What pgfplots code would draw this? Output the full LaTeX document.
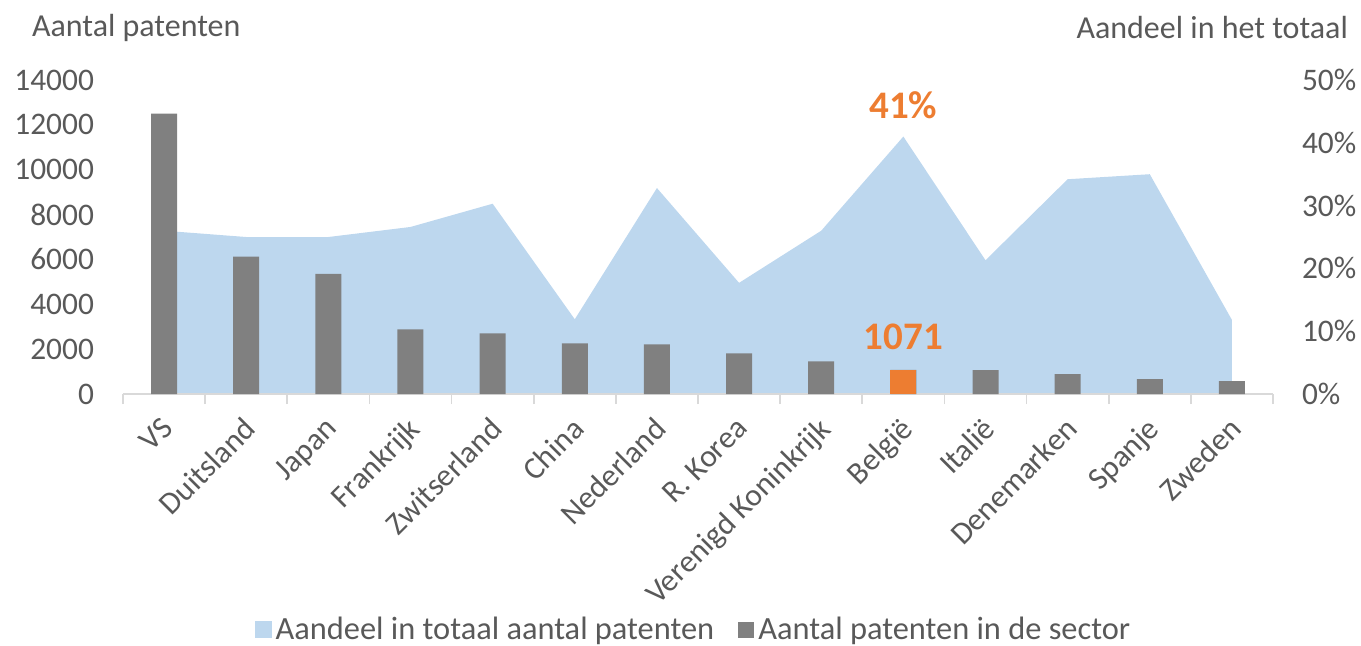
\documentclass[border=0pt]{standalone}
\usepackage{pgfplots}
\pgfplotsset{compat=1.18}
\usepackage{pgfplotstable}
\usepackage{fontspec}
\setmainfont{Carlito}

\definecolor{areablue}{HTML}{BDD7EE}
\definecolor{bargray}{HTML}{808080}
\definecolor{accent}{HTML}{ED7D31}
\definecolor{txt}{HTML}{595959}

% share of total patents (%), per country
\pgfplotstableread{
idx share
0  26.0
1  25.0
2  25.0
3  26.6
4  30.3
5  11.9
6  32.8
7  17.7
8  26.0
9  41.0
10 21.3
11 34.2
12 35.0
13 11.8
}\sharetable

% number of patents in the sector
\pgfplotstableread{
idx count
0  12500
1  6130
2  5360
3  2880
4  2700
5  2260
6  2215
7  1815
8  1460
9  1071
10 1060
11 885
12 665
13 575
}\counttable

\begin{document}
\begin{tikzpicture}[font=\fontsize{16}{19}\selectfont, text=txt]
\useasboundingbox (-61.5pt,-125.5pt) rectangle (619pt,197pt);
\pgfplotsset{
  base/.style={
    scale only axis, width=575pt, height=157pt,
    at={(0,0)}, anchor=south west,
    xmin=-0.5, xmax=13.5, ymin=0,
    /pgf/number format/assume math mode=true,
    /pgf/number format/1000 sep={},
    scaled y ticks=false,
    ticklabel style={text=txt, font=\fontsize{15.7}{18}\selectfont},
    major tick length=0pt,
  }
}

% area: share in total (right axis)
\begin{axis}[base,
  ymax=50,
  axis y line*=right, axis x line=none,
  y axis line style={draw=none},
  ytick={0,10,...,50},
  yticklabel={\pgfmathprintnumber{\tick}\%},
  yticklabel style={xshift=11pt},
]
\addplot[fill=areablue, draw=none] table[x=idx, y=share]{\sharetable} \closedcycle;
\node[text=accent, font=\fontsize{19.5}{22}\selectfont\bfseries] at (axis cs:9,46) {41\%};
\end{axis}

% bars: number of patents (left axis)
\begin{axis}[base,
  ymax=14000,
  axis y line*=left, axis x line*=bottom,
  y axis line style={draw=none},
  x axis line style={draw=black!15, line width=0.8pt},
  ytick={0,2000,...,14000},
  yticklabel style={xshift=-11pt},
  xtick={0,...,13},
  xticklabels={VS,Duitsland,Japan,Frankrijk,Zwitserland,China,Nederland,R. Korea,Verenigd Koninkrijk,België,Italië,Denemarken,Spanje,Zweden},
  xticklabel style={rotate=45, anchor=north east, xshift=-8pt, yshift=-5pt, inner sep=1pt},
  minor xtick={-0.5,0.5,...,13.5},
  minor tick length=5pt, tick align=outside,
  minor tick style={draw=black!15, line width=0.8pt},
  ybar, bar width=13pt, bar shift=0pt,
  legend style={at={(0.497,-0.75)}, anchor=center, draw=none, fill=none,
    legend columns=2, font=\fontsize{16.2}{19}\selectfont, text=txt,
    /tikz/every even column/.append style={column sep=10pt}},
  legend cell align=left,
]
\addlegendimage{legend image code/.code={\fill[areablue] (0pt,-4pt) rectangle (8pt,4pt);}}
\addlegendentry{Aandeel in totaal aantal patenten}
\addplot[fill=bargray, draw=none,
  legend image code/.code={\fill[bargray] (0pt,-4pt) rectangle (8pt,4pt);}]
  table[x=idx, y=count]{\counttable};
\addlegendentry{Aantal patenten in de sector}
\addplot[fill=accent, draw=none, forget plot] coordinates {(9,1071)};
\node[text=accent, font=\fontsize{19.5}{22}\selectfont\bfseries] at (axis cs:9,2530) {1071};
\end{axis}

\node[anchor=west] at (-49pt,183pt) {Aantal patenten};
\node[anchor=east] at (616pt,183pt) {Aandeel in het totaal};
\end{tikzpicture}
\end{document}
